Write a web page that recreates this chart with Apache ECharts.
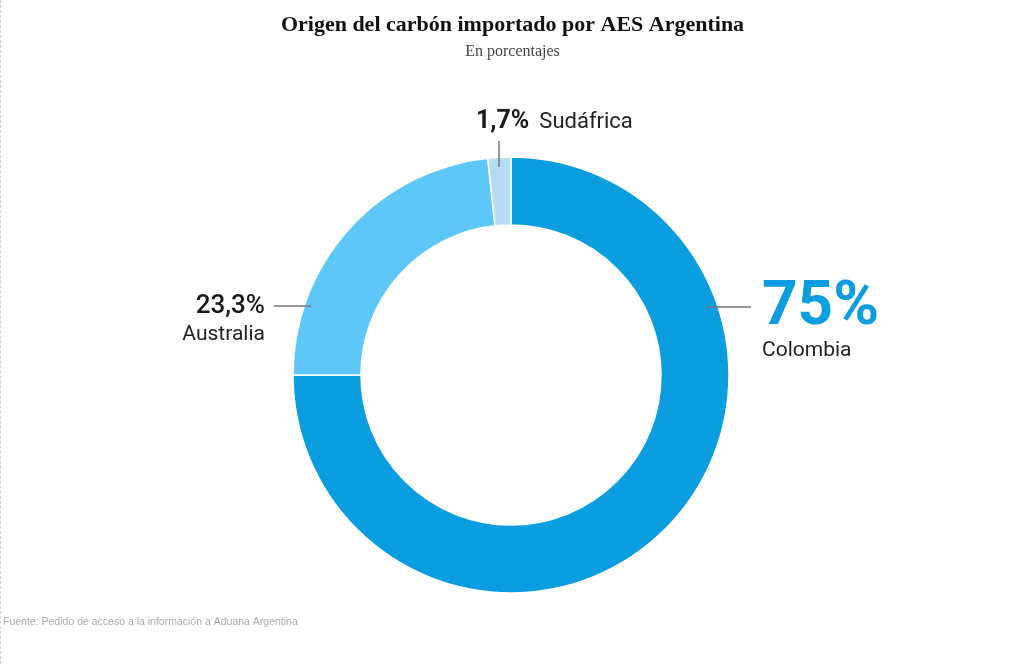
<!DOCTYPE html>
<html>
<head>
<meta charset="utf-8">
<script src="https://cdn.jsdelivr.net/npm/echarts@6/dist/echarts.min.js"></script>
<style>
    html, body { margin: 0; padding: 0; background: #fff; }
    #chart { width: 1024px; height: 664px; box-sizing: border-box; border-left: 1px dashed #d0d0d0; }
</style>
</head>
<body>
<div id="chart"></div>
<script>
// datos
var paises = ['Colombia', 'Australia', 'Sudáfrica'];
var porcentajes = [75, 23.3, 1.7];
var colores = ['#0a9de0', '#5dc8f8', '#b5dcf5'];

function fmt(v) {
    return String(v).replace('.', ',') + '%';
}

// donde va cada etiqueta (x, y, alineacion) y su linea guia
var posEtiquetas = [
    { x: 761, y: 322, align: 'left', line: [705, 307, 750, 307] },
    { x: 264, y: 320, align: 'right', line: [273, 306, 310, 306] },
    { x: 475, y: 122, align: 'left', line: [498, 141, 498, 167] }
];

var datos = paises.map(function (p, i) {
    var label;
    if (i == 0) {
        label = { formatter: '{big|' + fmt(porcentajes[i]) + '}\n{name|' + p + '}', align: 'left' };
    } else if (i == 1) {
        label = { formatter: '{val|' + fmt(porcentajes[i]) + '}\n{name|' + p + '}', align: 'right' };
    } else {
        label = { formatter: '{valb|' + fmt(porcentajes[i]) + '}{gap|}{name2|' + p + '}', align: 'left' };
    }
    return { name: p, value: porcentajes[i], itemStyle: { color: colores[i] }, label: label };
});

// lineas guia encima del anillo
var lineas = posEtiquetas.map(function (p) {
    return {
        type: 'line',
        z: 100,
        shape: { x1: p.line[0], y1: p.line[1], x2: p.line[2], y2: p.line[3] },
        style: { stroke: '#777', lineWidth: 1.5 }
    };
});

var option = {
    animation: false,
    title: [
        {
            text: 'Origen del carbón importado por AES Argentina',
            left: 'center',
            top: 9,
            textStyle: { fontFamily: 'Liberation Serif', fontWeight: 'bold', fontSize: 22, color: '#111' }
        },
        {
            text: 'En porcentajes',
            left: 'center',
            top: 39,
            textStyle: { fontFamily: 'Liberation Serif', fontWeight: 'normal', fontSize: 16, color: '#444' }
        },
        {
            text: 'Fuente: Pedido de acceso a la información a Aduana Argentina',
            left: 2,
            top: 617,
            padding: 0,
            textStyle: { fontFamily: 'Liberation Sans', fontWeight: 'normal', fontSize: 10.5, color: '#aaa' }
        }
    ],
    graphic: lineas,
    series: [
        {
            type: 'pie',
            center: [510, 375],
            radius: [150, 218],
            startAngle: 90,
            clockwise: true,
            silent: true,
            itemStyle: { borderColor: '#fff', borderWidth: 1.5 },
            label: {
                show: true,
                position: 'outside',
                fontFamily: 'Roboto',
                rich: {
                    big: { fontFamily: 'Roboto', fontSize: 62, fontWeight: 'bold', color: '#0a9de0', lineHeight: 58 },
                    val: { fontFamily: 'Roboto', fontSize: 26, fontWeight: 500, color: '#1a1a1a', lineHeight: 29 },
                    valb: { fontFamily: 'Roboto', fontSize: 25, fontWeight: 'bold', color: '#1a1a1a', lineHeight: 28 },
                    gap: { width: 10 },
                    name: { fontFamily: 'Roboto', fontSize: 21, color: '#222', lineHeight: 27 },
                    name2: { fontFamily: 'Roboto', fontSize: 22, color: '#222', lineHeight: 28 }
                }
            },
            labelLine: { show: false },
            labelLayout: function (params) {
                var p = posEtiquetas[params.dataIndex];
                return {
                    x: p.x,
                    y: p.y,
                    align: p.align,
                    verticalAlign: 'middle'
                };
            },
            data: datos
        }
    ]
};

var chart = echarts.init(document.getElementById('chart'));
chart.setOption(option);
</script>
</body>
</html>
